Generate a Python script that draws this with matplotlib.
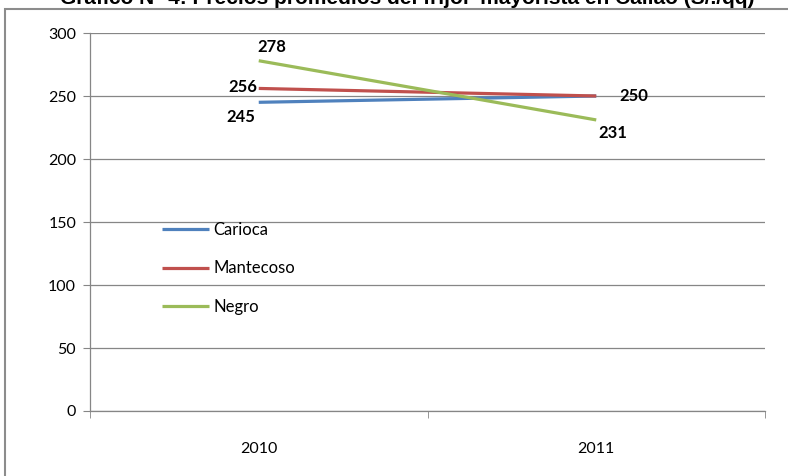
import matplotlib.pyplot as plt
import matplotlib.patches as patches

years = ["2010", "2011"]
carioca = [245, 250]
mantecoso = [256, 250]
negro = [278, 231]
series_names = ["Carioca", "Mantecoso", "Negro"]
title = "Gráfico N° 4: Precios promedios del frijol  mayorista en Callao (S/./qq)"

colors = ["#4F81BD", "#C0504D", "#9BBB59"]
font = "Lato"

fig = plt.figure(figsize=(7.88, 4.76), dpi=100)
ax = fig.add_axes([90 / 788, 1 - 411 / 476, 675 / 788, 378 / 476])

x = list(range(len(years)))
for vals, name, c in zip([carioca, mantecoso, negro], series_names, colors):
    ax.plot(x, vals, color=c, lw=2.3, label=name, solid_capstyle="butt")

# data labels (offsets in pixels)
labels = [
    (0, carioca[0], (-18, -15)),
    (0, mantecoso[0], (-16, 1)),
    (0, negro[0], (13, 14)),
    (1, mantecoso[1], (38, 0)),
    (1, negro[1], (17, -13)),
]
for xi, v, off in labels:
    ax.annotate(str(v), (xi, v), xytext=off, textcoords="offset pixels",
                ha="center", va="center", fontsize=12, fontweight="bold",
                family=font, color="black")

ax.set_xlim(-0.5, 1.5)
ax.set_ylim(0, 300)
ax.set_yticks(range(0, 301, 50))
ax.set_xticks(x)
ax.set_xticklabels(years, family=font, fontsize=11.5)
ax.set_xticks([-0.5, 0.5, 1.5], minor=True)
ax.tick_params(axis="x", which="major", length=0, pad=22)
ax.tick_params(axis="x", which="minor", length=5, color="#868686")
ax.tick_params(axis="y", length=5, color="#868686", labelsize=11.5, pad=5)
for lab in ax.get_yticklabels():
    lab.set_family(font)
ax.yaxis.grid(True, color="#868686", lw=0.9)
ax.set_axisbelow(True)
for s in ["top", "right"]:
    ax.spines[s].set_visible(False)
for s in ["left", "bottom"]:
    ax.spines[s].set_color("#868686")
    ax.spines[s].set_linewidth(0.9)

leg = ax.legend(loc="upper left", bbox_to_anchor=(0.085, 0.54), frameon=False,
                handlelength=2.8, handletextpad=0.25, labelspacing=1.35,
                prop={"family": font, "size": 12})

# chart frame
fig.patches.append(patches.Rectangle((5 / 788, -0.05), 1.0, 1 - 9 / 476 + 0.05,
                                     transform=fig.transFigure, fill=False,
                                     edgecolor="#8C8C8C", lw=1.5))

fig.text(407 / 788, 1 - 4 / 476, title, ha="center", va="baseline",
         fontsize=15, fontweight="bold", family="Liberation Sans")

fig.savefig("out.png", dpi=100)
